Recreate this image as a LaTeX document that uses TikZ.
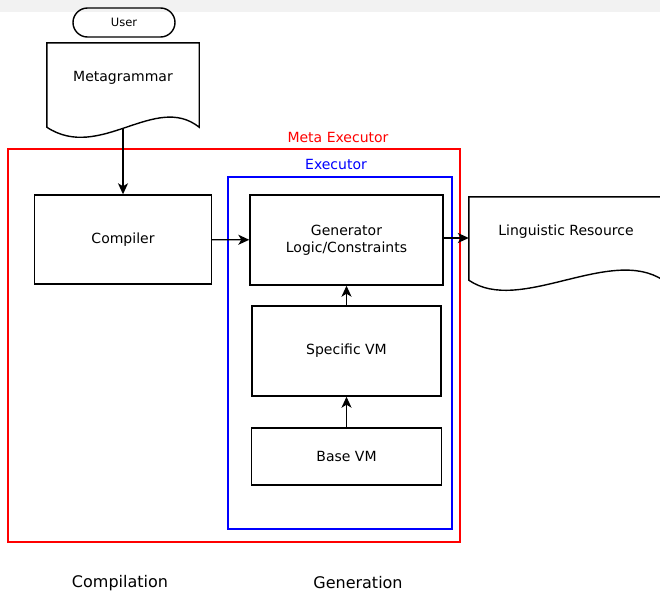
\documentclass[tikz,border=0pt]{standalone}
\usepackage{fontspec}
\setmainfont{DejaVu Sans}
\usetikzlibrary{positioning, arrows.meta, calc, shapes.misc}

\tikzset{
  block/.style={draw, line width=1.4pt, inner sep=0pt, align=center},
  paper/.style={inner sep=0pt, align=center},
  frame/.style={line width=1.4pt},
  caption/.style={inner sep=0pt, font=\fontsize{16}{19}\selectfont},
  flow/.style={line width=1.4pt, -{Stealth[length=11pt, width=10pt, inset=3pt]}},
}

\begin{document}
\begin{tikzpicture}[x=1pt, y=-1pt, font=\fontsize{14}{17}\selectfont, node distance=100pt, on grid]
   \clip (0,0) rectangle (660,592);
   \fill[black!5] (0,0) rectangle (660,12);

   % input side
   \node[block, rounded rectangle, minimum width=102pt, minimum height=29pt,
         font=\fontsize{11.5}{14}\selectfont] (user) at (124,22.5) {User};
   \node[paper, minimum width=152pt, minimum height=70pt] (meta) at (123,78) {Metagrammar};
   \draw[frame] (meta.north west) -- (meta.north east) -- ($(meta.south east)+(0,14)$)
      .. controls +(-44,-35) and +(53,35) .. ($(meta.south west)+(0,14)$) -- cycle;
   \coordinate (meta tail) at ($(meta.south)+(0,15)$);

   % the two executor frames
   \draw[frame, red] (8,149) rectangle (460,542);
   \draw[frame, blue] (228,177) rectangle (452,529);
   \node[red] (metaexec) at (338,137) {Meta Executor};
   \node[blue] (exec) at (336,164) {Executor};

   % compilation and generation blocks
   \node[block, minimum width=177pt, minimum height=89pt] (compiler) at (123,239.5) {Compiler};
   \node[block, minimum width=193pt, minimum height=90pt] (gen) at (346.5,240) {Generator\\Logic/Constraints};
   \node[block, minimum width=189pt, minimum height=90pt] (spec) [below=111pt of gen] {Specific VM};
   \node[block, minimum width=190pt, minimum height=57pt] (base) [below=105.5pt of spec] {Base VM};

   % output document
   \node[paper, minimum width=194pt, minimum height=70pt] (ling) at (566,232) {Linguistic Resource};
   \draw[frame] (ling.north east) -- (ling.north west) -- ($(ling.south west)+(0,13)$)
      .. controls +(51,35) and +(-53,-35) .. ($(ling.south east)+(0,13)$) -- cycle;

   % phase captions
   \node[caption] (compilation) at (120,583) {Compilation};
   \node[caption] (generation) at (358,583) {Generation};

   \draw[flow] (meta tail) -- (meta tail |- compiler.north);
   \draw[flow] (compiler) -- (gen);
   \draw[flow] (base) -- (spec);
   \draw[flow] (spec) -- (gen);
   \draw[flow] (gen.east) ++(0,-2) coordinate (gen out) -- (gen out -| ling.west);
\end{tikzpicture}
\end{document}
